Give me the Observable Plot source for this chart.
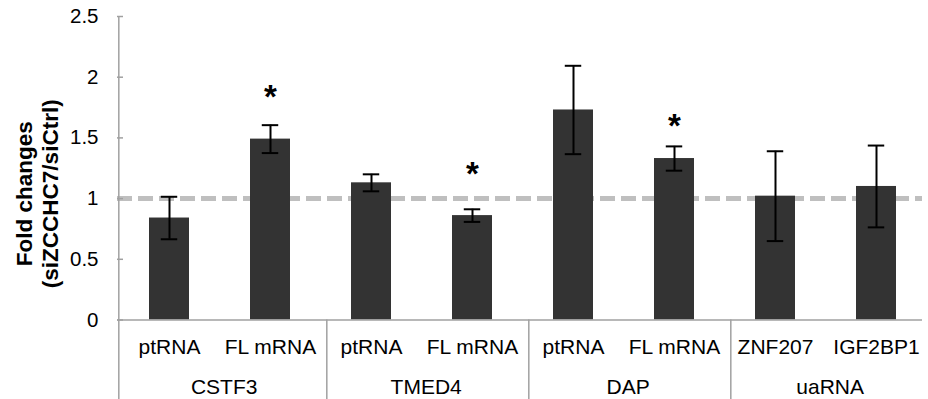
<!DOCTYPE html>
<html>
<head>
<meta charset="utf-8">
<script src="https://cdn.jsdelivr.net/npm/d3@7"></script>
<script src="https://cdn.jsdelivr.net/npm/@observablehq/plot@0.6"></script>
<style>
  html, body { margin: 0; padding: 0; background: #fff; }
  #chart svg { display: block; }
</style>
</head>
<body>
<div id="chart"></div>
<script>
// ---- data ----
const groups = ["CSTF3", "CSTF3", "TMED4", "TMED4", "DAP", "DAP", "uaRNA", "uaRNA"];
const targets = ["ptRNA", "FL mRNA", "ptRNA", "FL mRNA", "ptRNA", "FL mRNA", "ZNF207", "IGF2BP1"];
const foldChanges = [0.84, 1.49, 1.13, 0.86, 1.73, 1.33, 1.02, 1.10];
const errors = [0.175, 0.115, 0.07, 0.052, 0.364, 0.10, 0.37, 0.337];
const starLevels = [null, 1.90, null, 1.263, null, 1.661, null, null];
const groupNames = ["CSTF3", "TMED4", "DAP", "uaRNA"];
const yTicks = [0, 0.5, 1, 1.5, 2, 2.5];
const referenceLevel = [1];
const yTitle = "Fold changes\n(siZCCHC7/siCtrl)";

// ---- layout ----
const W = 928, H = 399, mL = 117, mR = 0, mT = 16, mB = 79.5;
const axisGray = "#a0a0a0";
const font = "'Liberation Sans', Arial, Helvetica, sans-serif";

const keys = targets.map((t, i) => groups[i] + "|" + t);
const rows = keys.map((k, i) => ({
  key: k, group: groups[i], target: targets[i], value: foldChanges[i],
  lo: foldChanges[i] - errors[i], hi: foldChanges[i] + errors[i], star: starLevels[i]
}));
const starRows = rows.filter(d => d.star != null);
const step = (W - mL - mR) / keys.length;
const half = step / 2;
const bandwidth = step * 0.4;
const capInset = (bandwidth - 17) / 2;
const groupRows = groupNames.map(g => ({ group: g, first: keys[groups.indexOf(g)] }));

const chart = Plot.plot({
  width: W, height: H,
  marginLeft: mL, marginRight: mR, marginTop: mT, marginBottom: mB,
  style: { fontFamily: font, background: "#fff", color: "#000" },
  x: { domain: keys, paddingInner: 0.6, paddingOuter: 0.3, axis: null },
  y: { domain: [0, 2.5], axis: null },
  marks: [
    // dashed reference line at 1
    Plot.ruleY(referenceLevel, { stroke: "#bfbfbf", strokeWidth: 5, strokeDasharray: "15,6", insetRight: 6 }),
    // bars
    Plot.barY(rows, { x: "key", y: "value", fill: "#333333" }),
    // error bars
    Plot.ruleX(rows, { x: "key", y1: "lo", y2: "hi", stroke: "#000", strokeWidth: 2 }),
    Plot.tickY(rows, { x: "key", y: "hi", stroke: "#000", strokeWidth: 2, inset: capInset }),
    Plot.tickY(rows, { x: "key", y: "lo", stroke: "#000", strokeWidth: 2, inset: capInset }),
    // x axis line
    Plot.ruleY([0], { stroke: axisGray, strokeWidth: 1.5, insetRight: 6 }),
    // y axis line (continues down through the category area)
    Plot.ruleX([keys[0]], { dx: -half, y1: 2.5, y2: 0, insetBottom: -mB, stroke: axisGray, strokeWidth: 1.5 }),
    // group separators
    Plot.ruleX(groupRows.slice(1), { x: "first", dx: -half + 6, y1: 0, y2: 0, insetBottom: -mB, stroke: axisGray, strokeWidth: 1.5 }),
    // y ticks pointing inward
    Plot.axisY({ ticks: yTicks, tickSize: 6, dx: 6, tickFormat: () => "", stroke: axisGray, strokeWidth: 1.5, label: null }),
    // y tick labels
    Plot.axisY({ ticks: yTicks, tickSize: 0, tickPadding: 19, fontSize: 20.5, tickFormat: d => String(d), label: null, fill: "#000" }),
    // significance stars
    Plot.text(starRows, { x: "key", y: "star", text: () => "*", fontSize: 33, fontWeight: "bold", dy: 8, fill: "#000" }),
    // target labels
    Plot.text(rows, { x: "key", text: "target", frameAnchor: "bottom", lineAnchor: "bottom", dy: 34, fontSize: 21, fill: "#000" }),
    // group labels
    Plot.text(groupRows, { x: "first", text: "group", frameAnchor: "bottom", lineAnchor: "bottom", dx: half + 4, dy: 74, fontSize: 21, fill: "#000" }),
    // y title
    Plot.text([yTitle], { text: d => d, frameAnchor: "left", rotate: -90, dx: -80.5, dy: 25.5, fontSize: 22.5, fontWeight: "bold", lineHeight: 1.12, textAnchor: "middle", lineAnchor: "middle", fill: "#000" })
  ]
});
document.getElementById("chart").appendChild(chart);
</script>
</body>
</html>
